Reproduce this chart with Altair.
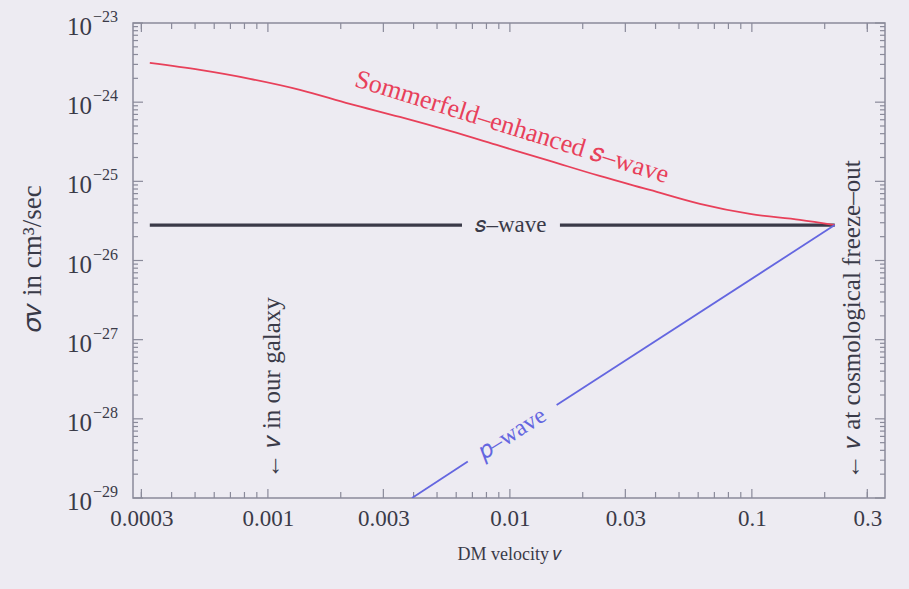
import altair as alt
import pandas as pd

# ---------------- data ----------------
somm_v = [0.000325, 0.000524, 0.000843, 0.001356, 0.00218, 0.00351, 0.00565, 0.00909,
          0.01463, 0.0235, 0.0379, 0.0610, 0.0982, 0.158, 0.22]
somm_sv = [3.13e-24, 2.55e-24, 1.97e-24, 1.43e-24, 9.5e-25, 6.5e-25, 4.33e-25, 2.80e-25,
           1.81e-25, 1.17e-25, 7.78e-26, 5.19e-26, 3.87e-26, 3.26e-26, 2.8e-26]

swave_v = [0.000325, 0.00634, 0.0161, 0.22]
swave_sv = [2.8e-26, 2.8e-26, 2.8e-26, 2.8e-26]
swave_seg = [0, 0, 1, 1]

pwave_v = [0.00394, 0.0067, 0.0156, 0.22]
pwave_sv = [1.0e-29, 2.9e-29, 1.5e-28, 2.8e-26]
pwave_seg = [0, 0, 1, 1]

x_label_vals = [0.0003, 0.001, 0.003, 0.01, 0.03, 0.1, 0.3]
x_decades = [1e-4, 1e-3, 1e-2, 1e-1]
y_decades = [1e-29, 1e-28, 1e-27, 1e-26, 1e-25, 1e-24, 1e-23]
y_exponents = ["−29", "−28", "−27", "−26", "−25", "−24", "−23"]
mantissas = [2, 3, 4, 5, 6, 7, 8, 9]

X_DOMAIN = [0.000277, 0.355]
Y_DOMAIN = [1e-29, 1e-23]

W, H = 752, 475
FONT = "Liberation Serif"
BG = "#edebf2"
AXC = "#8a8a9a"
RED = "#e8405a"
BLUE = "#6466e0"
DARK = "#3a3a48"

x_minor = [m * d for d in x_decades for m in [1] + mantissas
           if X_DOMAIN[0] <= m * d <= X_DOMAIN[1] and (m * d) not in x_label_vals]
x_major = x_label_vals
y_minor = [m * d for d in y_decades[:-1] for m in mantissas]

somm = pd.DataFrame({"v": somm_v, "sv": somm_sv})
swave = pd.DataFrame({"v": swave_v, "sv": swave_sv, "seg": swave_seg})
pwave = pd.DataFrame({"v": pwave_v, "sv": pwave_sv, "seg": pwave_seg})
ylab = pd.DataFrame({"sv": y_decades, "e": y_exponents, "b": ["10"] * len(y_decades)})

xs = alt.Scale(type="log", domain=X_DOMAIN, nice=False)
ys = alt.Scale(type="log", domain=Y_DOMAIN, nice=False)

x_axis = alt.Axis(values=x_label_vals, format="~g", ticks=False, domain=False, grid=False,
                  labelFont=FONT, labelFontSize=23, labelColor=DARK, labelPadding=9,
                  title="DM velocity 𝑣", titleFont=FONT, titleFontSize=18,
                  titleFontWeight="normal", titleColor=DARK, titleY=56,
                  titleBaseline="middle")
y_axis = alt.Axis(values=y_decades, labels=False, ticks=False, domain=False,
                  grid=False, title="𝜎𝑣 in cm³/sec", titleFont=FONT,
                  titleFontSize=27, titleFontWeight="normal", titleColor=DARK,
                  titleX=-101, titleY=235, titleAngle=270, titleAlign="center",
                  titleBaseline="middle")

base_axes = alt.Chart(somm).mark_line(opacity=0).encode(
    x=alt.X("v:Q", scale=xs, axis=x_axis),
    y=alt.Y("sv:Q", scale=ys, axis=y_axis),
)

ylab_base = alt.Chart(ylab).mark_text(font=FONT, fontSize=25, color=DARK, align="right",
                                      baseline="middle", dy=4).encode(
    y=alt.Y("sv:Q", scale=ys), x=alt.value(-41), text="b:N")
ylab_exp = alt.Chart(ylab).mark_text(font=FONT, fontSize=16, color=DARK, align="left",
                                     baseline="middle", dy=-6).encode(
    y=alt.Y("sv:Q", scale=ys), x=alt.value(-40), text="e:N")

red_line = alt.Chart(somm).mark_line(color=RED, strokeWidth=1.8, interpolate="monotone",
                                     clip=True).encode(
    x=alt.X("v:Q", scale=xs), y=alt.Y("sv:Q", scale=ys))
black_line = alt.Chart(swave).mark_line(color=DARK, strokeWidth=3.2, clip=True).encode(
    x=alt.X("v:Q", scale=xs), y=alt.Y("sv:Q", scale=ys), detail="seg:N")
blue_line = alt.Chart(pwave).mark_line(color=BLUE, strokeWidth=1.8, clip=True).encode(
    x=alt.X("v:Q", scale=xs), y=alt.Y("sv:Q", scale=ys), detail="seg:N")


def label(v, sv, text, color, angle, size):
    df = pd.DataFrame({"v": [v], "sv": [sv], "t": [text]})
    return alt.Chart(df).mark_text(font=FONT, fontSize=size, color=color, angle=angle,
                                   align="center", baseline="middle").encode(
        x=alt.X("v:Q", scale=xs), y=alt.Y("sv:Q", scale=ys), text="t:N")


lab_somm = label(0.0102, 4.87e-25, "Sommerfeld–enhanced 𝑠–wave", RED, 17.3, 26)
lab_s = label(0.0101, 2.8e-26, "𝑠–wave", DARK, 0, 23)
lab_p = label(0.0102, 6.5e-29, "𝑝–wave", BLUE, 327.5, 24)
lab_gal = label(0.00104, 2.46e-28, "← 𝑣 in our galaxy", DARK, 270, 25)
lab_fo = label(0.259, 1.78e-27, "← 𝑣 at cosmological freeze–out", DARK, 270, 25)


def ticks_x(vals, length, top):
    df = pd.DataFrame({"v": vals})
    if top:
        enc = dict(y=alt.value(0), y2=alt.value(length))
    else:
        enc = dict(y=alt.value(H), y2=alt.value(H - length))
    return alt.Chart(df).mark_rule(color=AXC, strokeWidth=1.2).encode(
        x=alt.X("v:Q", scale=xs), **enc)


def ticks_y(vals, length, right):
    df = pd.DataFrame({"sv": vals})
    if right:
        enc = dict(x=alt.value(W), x2=alt.value(W - length))
    else:
        enc = dict(x=alt.value(0), x2=alt.value(length))
    return alt.Chart(df).mark_rule(color=AXC, strokeWidth=1.2).encode(
        y=alt.Y("sv:Q", scale=ys), **enc)


tick_layers = [
    ticks_x(x_major, 9, False), ticks_x(x_major, 9, True),
    ticks_x(x_minor, 6, False), ticks_x(x_minor, 6, True),
    ticks_y(y_decades, 10, False), ticks_y(y_decades, 10, True),
    ticks_y(y_minor, 5, False), ticks_y(y_minor, 5, True),
]

chart = alt.layer(
    base_axes, *tick_layers, ylab_base, ylab_exp, black_line, red_line, blue_line,
    lab_somm, lab_s, lab_p, lab_gal, lab_fo,
).properties(
    width=W, height=H,
    autosize=alt.AutoSizeParams(type="none"),
    padding={"left": 133, "top": 23, "right": 24, "bottom": 91},
    background=BG,
).configure_view(
    stroke=AXC, strokeWidth=1.5, fill=BG,
)

chart.save("out.html", embed_options={"renderer": "svg", "actions": False})
